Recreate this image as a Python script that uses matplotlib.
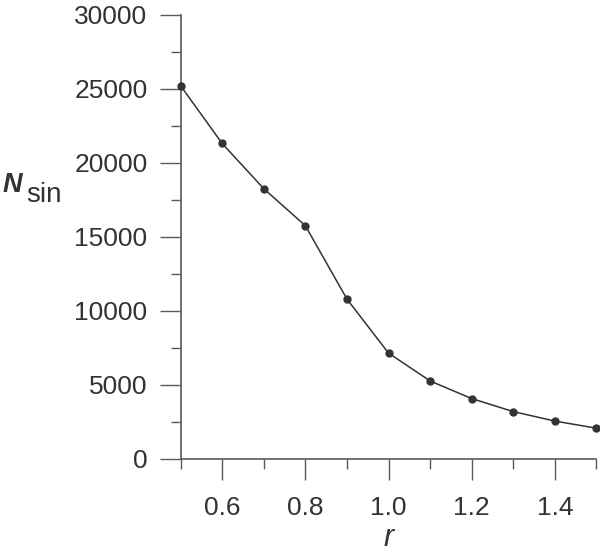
import matplotlib.pyplot as plt
from matplotlib.ticker import MultipleLocator

r = [0.5, 0.6, 0.7, 0.8, 0.9, 1.0, 1.1, 1.2, 1.3, 1.4, 1.5]
n_sin = [25200, 21300, 18250, 15750, 10800, 7150, 5270, 4080, 3200, 2560, 2080]

plt.rcParams['font.family'] = ['Liberation Sans', 'DejaVu Sans']

cor_eixo = "#5a5a5a"
cor_texto = "#333333"

fig = plt.figure(figsize=(6, 5.52), dpi=100)
ax = fig.add_axes([0.301, 0.1685, 0.693, 0.805])

ax.plot(r, n_sin, color="#333333", linewidth=1.1, marker="o",
        markersize=5, clip_on=False, zorder=3)

ax.set_xlim(0.5, 1.5)
ax.set_ylim(0, 30000)

ax.xaxis.set_minor_locator(MultipleLocator(0.1))
ax.yaxis.set_major_locator(MultipleLocator(5000))
ax.yaxis.set_minor_locator(MultipleLocator(2500))
ax.set_xticks([0.6, 0.8, 1.0, 1.2, 1.4])
ax.set_xticklabels(["0.6", "0.8", "1.0", "1.2", "1.4"])

for lado in ["top", "right"]:
    ax.spines[lado].set_visible(False)
for lado in ["left", "bottom"]:
    ax.spines[lado].set_color(cor_eixo)
    ax.spines[lado].set_linewidth(1.2)

ax.tick_params(which="major", direction="out", length=14.8, width=1.0,
               color=cor_eixo, labelsize=19, labelcolor=cor_texto, pad=9)
ax.tick_params(axis="x", which="major", pad=12)
ax.tick_params(which="minor", direction="out", length=7.5, width=1.0,
               color=cor_eixo)

# rótulo do eixo y: N em negrito itálico + "sin" um pouco abaixo
fig.text(0.005, 0.6527, "N", fontsize=19.5, fontweight="bold", fontstyle="italic",
         color=cor_texto, ha="left", va="baseline")
fig.text(0.044, 0.6346, "sin", fontsize=20, color=cor_texto,
         ha="left", va="baseline")

ax.set_xlabel("r", fontsize=22, fontstyle="italic", color=cor_texto, va="baseline")
ax.xaxis.set_label_coords(0.5, -0.196)

fig.savefig("out.png", dpi=100)
